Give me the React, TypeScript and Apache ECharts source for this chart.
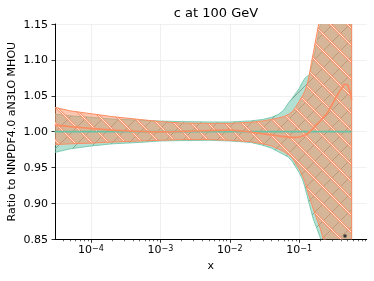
import React, { useEffect, useRef } from 'react';
import * as echarts from 'echarts';

// ---- data ----
const xValues = [3e-5, 5e-5, 1e-4, 2e-4, 5e-4, 1e-3, 2e-3, 5e-3, 1e-2, 2e-2, 3e-2, 4e-2, 5e-2, 6e-2, 7e-2, 8e-2, 9e-2, 0.1, 0.11, 0.12, 0.13, 0.14, 0.15, 0.16, 0.18, 0.2, 0.22, 0.25, 0.3, 0.35, 0.4, 0.45, 0.5, 0.55, 0.57];

const greenHigh = [1.0245, 1.022, 1.02, 1.0175, 1.016, 1.0148, 1.014, 1.0135, 1.0135, 1.015, 1.017, 1.02, 1.024, 1.03, 1.04, 1.047, 1.054, 1.06, 1.068, 1.074, 1.077, 1.079, 1.09, 1.1, 1.125, 1.148, 1.175, 1.21, 1.28, 1.34, 1.4, 1.46, 1.53, 1.6, 1.63];
const greenLow = [0.971, 0.976, 0.98, 0.983, 0.985, 0.987, 0.9875, 0.988, 0.987, 0.985, 0.981, 0.977, 0.972, 0.968, 0.9645, 0.958, 0.95, 0.943, 0.935, 0.924, 0.911, 0.899, 0.888, 0.878, 0.865, 0.853, 0.84, 0.82, 0.79, 0.76, 0.73, 0.7, 0.67, 0.64, 0.63];
const greenCentral = [1, 1, 1, 1, 1, 1, 1, 1, 1, 1, 1, 1, 1, 1, 1, 1, 1, 1, 1, 1, 1, 1, 1, 1, 1, 1, 1, 1, 1, 1, 1, 1, 1, 1, 1];

const orangeHigh = [1.034, 1.029, 1.025, 1.021, 1.017, 1.014, 1.012, 1.0115, 1.0115, 1.013, 1.015, 1.017, 1.019, 1.021, 1.024, 1.028, 1.035, 1.042, 1.049, 1.056, 1.065, 1.079, 1.096, 1.11, 1.137, 1.16, 1.19, 1.23, 1.3, 1.36, 1.42, 1.48, 1.55, 1.62, 1.65];
const orangeLow = [0.982, 0.983, 0.984, 0.9855, 0.987, 0.988, 0.989, 0.989, 0.988, 0.986, 0.983, 0.98, 0.976, 0.972, 0.968, 0.963, 0.955, 0.948, 0.94, 0.931, 0.92, 0.909, 0.9, 0.892, 0.878, 0.866, 0.852, 0.835, 0.81, 0.78, 0.75, 0.72, 0.69, 0.66, 0.65];
const orangeCentral = [1.009, 1.007, 1.0046, 1.002, 1.0003, 0.9996, 1.0003, 1.0015, 1.002, 0.9995, 0.997, 0.9955, 0.994, 0.993, 0.9925, 0.992, 0.992, 0.9925, 0.9935, 0.995, 0.997, 0.9995, 1.002, 1.005, 1.0105, 1.0145, 1.019, 1.025, 1.038, 1.05, 1.059, 1.066, 1.065, 1.052, 1.044];

const xMajorTicks = [1e-4, 1e-3, 1e-2, 1e-1];
const xMinorTicks = [4e-5, 5e-5, 6e-5, 7e-5, 8e-5, 9e-5, 2e-4, 3e-4, 4e-4, 5e-4, 6e-4, 7e-4, 8e-4, 9e-4, 2e-3, 3e-3, 4e-3, 5e-3, 6e-3, 7e-3, 8e-3, 9e-3, 2e-2, 3e-2, 4e-2, 5e-2, 6e-2, 7e-2, 8e-2, 9e-2, 0.2, 0.3, 0.4, 0.5, 0.6, 0.7, 0.8, 0.9];

const titleText = 'c at 100 GeV';
const yName = 'Ratio to NNPDF4.0 aN3LO MHOU';
const xName = 'x';

const X_MIN = 3.03e-5;
const X_MAX = 0.94;

const FONT = 'DejaVu Sans';
const GREEN = '#66c2a5';
const ORANGE = '#fc8d62';

function tile(svgBody: string, s: number) {
  const svg = `<svg xmlns="http://www.w3.org/2000/svg" width="${s}" height="${s}">${svgBody}</svg>`;
  return 'data:image/svg+xml;charset=utf-8,' + encodeURIComponent(svg);
}

const S = 17;
const backslash = `M-2,-2 L${S + 2},${S + 2} M${-S - 2},-2 L2,${S + 2} M${S - 2},-2 L${2 * S + 2},${S + 2}`;
const slash = `M-2,${S + 2} L${S + 2},-2 M-2,2 L2,-2 M${S - 2},${S + 2} L${S + 2},${S - 2}`;

const orangeHatch = {
  image: tile(`<path d="${backslash}" stroke="#f9946e" stroke-width="2.4" fill="none"/><path d="${backslash}" stroke="#fff1ea" stroke-width="0.9" fill="none"/>`, S),
  repeat: 'repeat',
  imageWidth: S,
  imageHeight: S,
};
const greenHatch = {
  image: tile(`<path d="${slash}" stroke="#6f8a72" stroke-width="0.7" fill="none"/>`, S),
  repeat: 'repeat',
  imageWidth: S,
  imageHeight: S,
};

const lg = (v: number) => Math.log10(v);

function bandSeries(lo: number[], hi: number[], fill: string, hatch: any, stroke: string, lw: number, z: number) {
  return {
    type: 'custom',
    clip: true,
    z,
    silent: true,
    data: [[lg(xValues[0]), lo[0]]],
    encode: { x: 0, y: 1 },
    renderItem: (_params: any, api: any) => {
      const pts: number[][] = [];
      for (let i = 0; i < xValues.length; i++) pts.push(api.coord([lg(xValues[i]), hi[i]]));
      for (let i = xValues.length - 1; i >= 0; i--) pts.push(api.coord([lg(xValues[i]), lo[i]]));
      return {
        type: 'group',
        children: [
          { type: 'polygon', shape: { points: pts }, style: { fill, stroke: null } },
          { type: 'polygon', shape: { points: pts }, style: { fill: hatch, stroke: null } },
          { type: 'polygon', shape: { points: pts }, style: { fill: null, stroke, lineWidth: lw } },
        ],
      };
    },
  };
}

function lineSeries(vals: number[], color: string, z: number) {
  return {
    type: 'line',
    z,
    silent: true,
    showSymbol: false,
    symbol: 'none',
    smooth: 0.2,
    data: xValues.map((x, i) => [lg(x), vals[i]]),
    lineStyle: { color, width: 1.7 },
  };
}

export default function App() {
  const ref = useRef<HTMLDivElement>(null);
  useEffect(() => {
    if (!ref.current) return;
    const chart = echarts.init(ref.current, null, { renderer: 'svg' });
    const majors = xMajorTicks.map(lg);
    const minors = xMinorTicks.map(lg).filter((v) => v > lg(X_MIN) && v < lg(X_MAX));
    chart.setOption({
      animation: false,
      textStyle: { fontFamily: FONT, color: '#000' },
      title: {
        text: titleText,
        left: 211,
        top: 1,
        textAlign: 'center',
        textStyle: { fontFamily: FONT, fontSize: 13, fontWeight: 'normal', color: '#000' },
      },
      grid: { left: 55, top: 24, right: 7.3, bottom: 41.7, containLabel: false, outerBoundsMode: 'none' },
      xAxis: [
        {
          type: 'value',
          min: lg(X_MIN),
          max: lg(X_MAX),
          name: xName,
          nameLocation: 'middle',
          nameGap: 21,
          nameMoveOverlap: false,
          nameTextStyle: { fontFamily: FONT, fontSize: 11, color: '#000' },
          axisLine: { show: true, onZero: false, lineStyle: { color: '#000', width: 1 } },
          axisTick: { show: true, length: 3.5, customValues: majors, lineStyle: { color: '#000', width: 0.8 } },
          axisLabel: {
            customValues: majors,
            margin: 5,
            formatter: (v: number) => `{b|10}{s|\u2212${Math.abs(Math.round(v))}}`,
            rich: {
              b: { fontFamily: FONT, fontSize: 11, color: '#000' },
              s: { fontFamily: FONT, fontSize: 8, color: '#000', verticalAlign: 'top' },
            },
          },
          splitLine: { show: true, lineStyle: { color: '#ececec', width: 0.8 } },
        },
        {
          type: 'value',
          min: lg(X_MIN),
          max: lg(X_MAX),
          position: 'bottom',
          axisLine: { show: false },
          axisTick: { show: true, length: 2, customValues: minors, lineStyle: { color: '#000', width: 0.6 } },
          axisLabel: { show: false },
          splitLine: { show: false },
        },
      ],
      yAxis: {
        type: 'value',
        min: 0.85,
        max: 1.15,
        interval: 0.05,
        name: yName,
        nameLocation: 'middle',
        nameGap: 38,
        nameMoveOverlap: false,
        nameTextStyle: { fontFamily: FONT, fontSize: 11, color: '#000' },
        axisLine: { show: true, lineStyle: { color: '#000', width: 1 } },
        axisTick: { show: true, length: 3.5, lineStyle: { color: '#000', width: 0.8 } },
        axisLabel: { fontFamily: FONT, fontSize: 11, color: '#000', margin: 7, formatter: (v: number) => v.toFixed(2) },
        splitLine: { show: true, lineStyle: { color: '#ececec', width: 0.8 } },
      },
      series: [
        bandSeries(greenLow, greenHigh, 'rgba(102,194,165,0.5)', greenHatch, GREEN, 0.8, 1),
        bandSeries(orangeLow, orangeHigh, 'rgba(252,141,98,0.5)', orangeHatch, ORANGE, 1, 2),
        lineSeries(greenCentral, GREEN, 3),
        lineSeries(orangeCentral, ORANGE, 4),
      ],
      graphic: [
        { type: 'rect', shape: { x: 343.5, y: 234.5, width: 3, height: 3 }, style: { fill: '#333' }, z: 10 },
      ],
    });
    return () => chart.dispose();
  }, []);
  return <div ref={ref} style={{ position: 'fixed', left: 0, top: 0, width: 374, height: 281 }} />;
}
